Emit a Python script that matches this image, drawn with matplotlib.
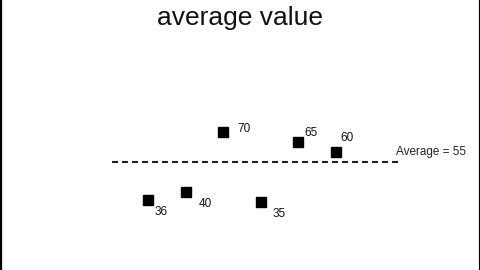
import matplotlib.pyplot as plt
from matplotlib.lines import Line2D

plt.rcParams['font.family'] = ['Liberation Sans', 'DejaVu Sans']

values = [36, 40, 70, 35, 65, 60]
average = 55
title = "average value"
# label offsets in pixels (dx, dy up) from each marker
label_offsets = [(7, -12), (13, -12), (14, 3), (12, -12), (6, 9), (4, 14)]

fig = plt.figure(figsize=(4.8, 2.7), dpi=100)
ax = fig.add_axes([0, 0, 1, 1])
xs = list(range(1, len(values) + 1))
ax.set_xlim(-2.936, 9.83)
ax.set_ylim(1, 136)
ax.axis('off')

ax.plot(xs, values, 's', color='black', markersize=6.5, linestyle='none')
for x, v, (dx, dy) in zip(xs, values, label_offsets):
    ax.annotate(str(v), (x, v), xytext=(dx * 0.72, dy * 0.72), textcoords='offset points',
                ha='left', va='center', fontsize=8.5, color='#111111')

x0, x1 = xs[0] - 0.96, xs[-1] + 1.7
ax.plot([x0, x1], [average, average], color='#222222', lw=1.5, dashes=(2.9, 1.9))
ax.annotate(f"Average = {average}", (x1, average), xytext=(-4 * 0.72, 10 * 0.72),
            textcoords='offset points', ha='left', va='center', fontsize=8.5, color='#222222')

fig.text(0.5, 1 - 18 / 270, title, ha='center', va='center', fontsize=19, color='#111111')

# frame edges of the original slide
fig.add_artist(Line2D([1 / 480, 1 / 480], [0, 1], color='black', lw=1.6))
fig.add_artist(Line2D([479.3 / 480, 479.3 / 480], [0, 1], color='black', lw=0.8))

fig.savefig('out.png', dpi=100)
